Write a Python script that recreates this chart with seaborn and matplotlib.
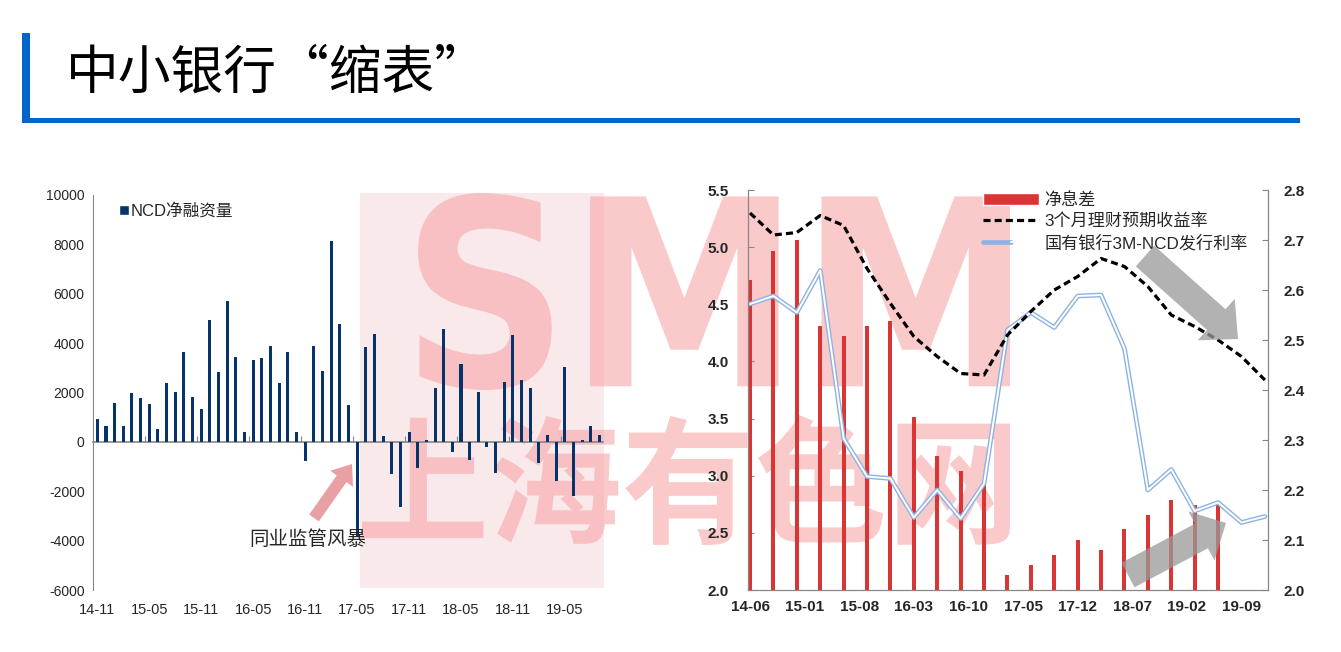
import matplotlib
import numpy as np
import pandas as pd
import seaborn as sns

from matplotlib import pyplot as plt
from matplotlib.font_manager import FontProperties
from matplotlib.legend_handler import HandlerTuple
from matplotlib.lines import Line2D
from matplotlib.patches import FancyArrowPatch, Patch, PathPatch, Rectangle
from matplotlib.textpath import TextPath
from matplotlib.transforms import Affine2D, IdentityTransform

matplotlib.use("Agg")

# left panel: monthly NCD net financing, 2014-11 .. 2019-09
ncd_net = [930, 650, 1570, 660, 2000, 1770, 1540, 530, 2400, 2010,
           3630, 1800, 1340, 4930, 2820, 5710, 3430, 400, 3330, 3390,
           3870, 2380, 3630, 380, -780, 3870, 2890, 8120, 4760, 1510,
           -3800, 3850, 4350, 240, -1300, -2650, 420, -1050, 80, 2190,
           4560, -390, 3170, -720, 2010, -220, -1280, 2440, 4330, 2500,
           2190, -860, 270, -1600, 3020, -2200, 80, 630, 270]
ncd_months = list(pd.period_range("2014-11", periods=len(ncd_net), freq="M").strftime("%y-%m"))

# right panel: quarterly data, x in months since 2014-06
nim = [4.71, 4.97, 5.06, 4.31, 4.22, 4.31, 4.35, 3.51, 3.17, 3.04, 2.95,
       2.13, 2.22, 2.31, 2.44, 2.35, 2.53, 2.66, 2.79, 2.74, 2.75]
wmp_yield = [2.754, 2.71, 2.715, 2.749, 2.729, 2.643, 2.573, 2.507, 2.467, 2.433, 2.43, 2.51,
             2.557, 2.60, 2.627, 2.663, 2.647, 2.607, 2.55, 2.527, 2.50, 2.467, 2.42]
ncd_rate = [2.572, 2.588, 2.555, 2.639, 2.303, 2.227, 2.223, 2.145, 2.20, 2.143, 2.213, 2.52,
            2.555, 2.525, 2.588, 2.59, 2.483, 2.20, 2.241, 2.158, 2.175, 2.135, 2.147]
nim_month = [3 * i for i in range(len(nim))]
rate_month = [3 * i for i in range(len(wmp_yield))]
right_months = list(pd.period_range("2014-06", periods=67, freq="M").strftime("%y-%m"))

NAVY = "#06336A"
RED = "#DA3434"
BLUE = "#8DB3E2"
GREY = "#868686"
W, H = 1341, 652

sns.set_style("white")
plt.rcParams["font.family"] = ["Liberation Sans", "Noto Sans CJK SC", "DejaVu Sans"]
plt.rcParams["axes.unicode_minus"] = False

fig = plt.figure(figsize=(W / 100, H / 100), dpi=100)


def px_axes(x0, y0, x1, y1):
    return fig.add_axes([x0 / W, 1 - y1 / H, (x1 - x0) / W, (y1 - y0) / H])


def fit_text(s, box, color, alpha, prop):
    # stretch a text outline into a pixel box (top-left origin)
    x0, y0, x1, y1 = box
    path = TextPath((0, 0), s, size=100, prop=prop)
    ext = path.get_extents()
    tr = (Affine2D().translate(-ext.x0, -ext.y0)
          .scale((x1 - x0) / ext.width, (y1 - y0) / ext.height)
          .translate(x0, H - y1))
    fig.add_artist(PathPatch(tr.transform_path(path), facecolor=color, edgecolor="none",
                             alpha=alpha, transform=IdentityTransform(), zorder=-5))


def px_arrow(tail, tip, color, alpha, tw, hw, hl, z=10):
    fig.add_artist(FancyArrowPatch((tail[0], H - tail[1]), (tip[0], H - tip[1]),
                                   arrowstyle=f"simple,head_length={hl},head_width={hw},tail_width={tw}",
                                   mutation_scale=1, shrinkA=0, shrinkB=0, color=color, alpha=alpha,
                                   lw=0, transform=IdentityTransform(), zorder=z))


# header
fig.add_artist(Rectangle((22 / W, 1 - 123 / H), 8 / W, 90 / H, transform=fig.transFigure,
                         color="#0066CC", lw=0))
fig.add_artist(Rectangle((22 / W, 1 - 123 / H), (1300 - 22) / W, 5 / H, transform=fig.transFigure,
                         color="#0066CC", lw=0))
fig.text(66 / W, 1 - 73 / H, "中小银行“缩表”", fontsize=38, family=["Noto Sans CJK SC"],
         va="center", ha="left", color="black")

# watermark
fig.add_artist(Rectangle((360 / W, 1 - 588 / H), (604 - 360) / W, (588 - 193) / H,
                         transform=fig.transFigure, color="#FAE9EB", lw=0, zorder=-6))
fit_text("SMM", (418, 193, 1010, 390), "#F7A5A8", 0.6, FontProperties(family="DejaVu Sans", weight="bold"))
fit_text("上海有色网", (362, 415, 1010, 545), "#F7A5A8", 0.6,
         FontProperties(family="Noto Sans CJK SC", weight="bold"))

# ---- left panel
ax1 = px_axes(93, 195, 603, 590)
ax1.set_facecolor("none")
sns.barplot(x=ncd_months, y=ncd_net, color=NAVY, width=0.35, saturation=1,
            errorbar=None, linewidth=0, ax=ax1)
ax1.set_xlim(-0.5, 58.4)
ax1.set_ylim(-6000, 10000)
ax1.set_yticks(np.arange(-6000, 10001, 2000))
ax1.set_xticks(range(0, len(ncd_net), 6))
ax1.set_xticklabels(ncd_months[::6])
ax1.set_xlabel("")
ax1.set_ylabel("")
for side in ["top", "right", "bottom"]:
    ax1.spines[side].set_visible(False)
ax1.spines["left"].set_color(GREY)
ax1.tick_params(axis="y", direction="in", length=4, color=GREY, pad=6, labelsize=10)
ax1.tick_params(axis="x", length=0, pad=9, labelsize=10.5)

zero_axis = ax1.secondary_xaxis(6000 / 16000)
zero_axis.set_xticks(np.arange(5.5, 58, 6))
zero_axis.tick_params(direction="in", length=4, color=GREY, labelbottom=False)
zero_axis.spines["bottom"].set_color(GREY)
zero_axis.spines["bottom"].set_linewidth(1.2)

ax1.legend(handles=[Patch(facecolor=NAVY, label="NCD净融资量")], loc="upper left",
           bbox_to_anchor=(0.05, 0.98), frameon=False, fontsize=12, handlelength=0.6,
           handleheight=0.6, handletextpad=0.15, borderpad=0, borderaxespad=0)

ax1.text(17.6, -3950, "同业监管风暴", fontsize=14, va="center", ha="left", family=["Noto Sans CJK SC"])
px_arrow((314, 518), (352, 464), "#E8A0A4", 1, 8.5, 20, 13)

# ---- right panel
ax2 = px_axes(748, 190, 1268, 590)
ax2.set_facecolor("none")
sns.barplot(x=nim_month, y=nim, native_scale=True, width=0.17, color=RED, saturation=1,
            errorbar=None, linewidth=0, ax=ax2)
ax2.set_ylim(2.0, 5.5)
ax2.set_yticks(np.arange(2.0, 5.51, 0.5))
ax2.yaxis.set_major_formatter(matplotlib.ticker.FormatStrFormatter("%.1f"))

ax3 = ax2.twinx()
ax3.set_facecolor("none")
sns.lineplot(x=rate_month, y=ncd_rate, color=BLUE, lw=3.4, ax=ax3)
sns.lineplot(x=rate_month, y=ncd_rate, color="white", lw=1.4, ax=ax3)
sns.lineplot(x=rate_month, y=wmp_yield, color="black", lw=2.3, linestyle=(0, (2.2, 1.3)), ax=ax3)
ax3.set_ylim(2.0, 2.8)
ax3.set_yticks(np.arange(2.0, 2.81, 0.1))
ax3.yaxis.set_major_formatter(matplotlib.ticker.FormatStrFormatter("%.1f"))

for a in (ax2, ax3):
    a.set_xlim(-0.26, 66.4)
    a.set_xlabel("")
    a.set_ylabel("")
    a.spines["top"].set_visible(False)
    for side in ["left", "right", "bottom"]:
        a.spines[side].set_color(GREY)
ax2.set_xticks(range(0, 67, 7))
ax2.set_xticklabels(right_months[::7])
ax2.tick_params(axis="x", direction="in", length=5, color=GREY, pad=7, labelsize=11)
ax2.tick_params(axis="y", direction="in", length=4, color=GREY, pad=14, labelsize=11)
ax3.tick_params(axis="y", direction="in", length=4, color=GREY, pad=11, labelsize=11)
for lab in ax2.get_xticklabels() + ax2.get_yticklabels() + ax3.get_yticklabels():
    lab.set_fontweight("bold")

legend_handles = [
    Patch(facecolor=RED, label="净息差"),
    Line2D([], [], color="black", lw=2.3, linestyle=(0, (2.2, 1.3))),
    (Line2D([], [], color=BLUE, lw=3.4), Line2D([], [], color="white", lw=1.4)),
]
ax3.legend(legend_handles, ["净息差", "3个月理财预期收益率", "国有银行3M-NCD发行利率"],
           handler_map={tuple: HandlerTuple(ndivide=None, pad=0)},
           loc="upper left", bbox_to_anchor=(0.452, 0.995), frameon=False, fontsize=12.3,
           handlelength=3.3, handleheight=0.75, handletextpad=0.3, labelspacing=0.32,
           borderpad=0, borderaxespad=0)

px_arrow((1145, 256), (1238, 339), "#999999", 0.75, 20, 40, 21)
px_arrow((1128, 575), (1226, 523), "#999999", 0.75, 20, 40, 20)

fig.savefig("out.png", dpi=100)
plt.close(fig)
